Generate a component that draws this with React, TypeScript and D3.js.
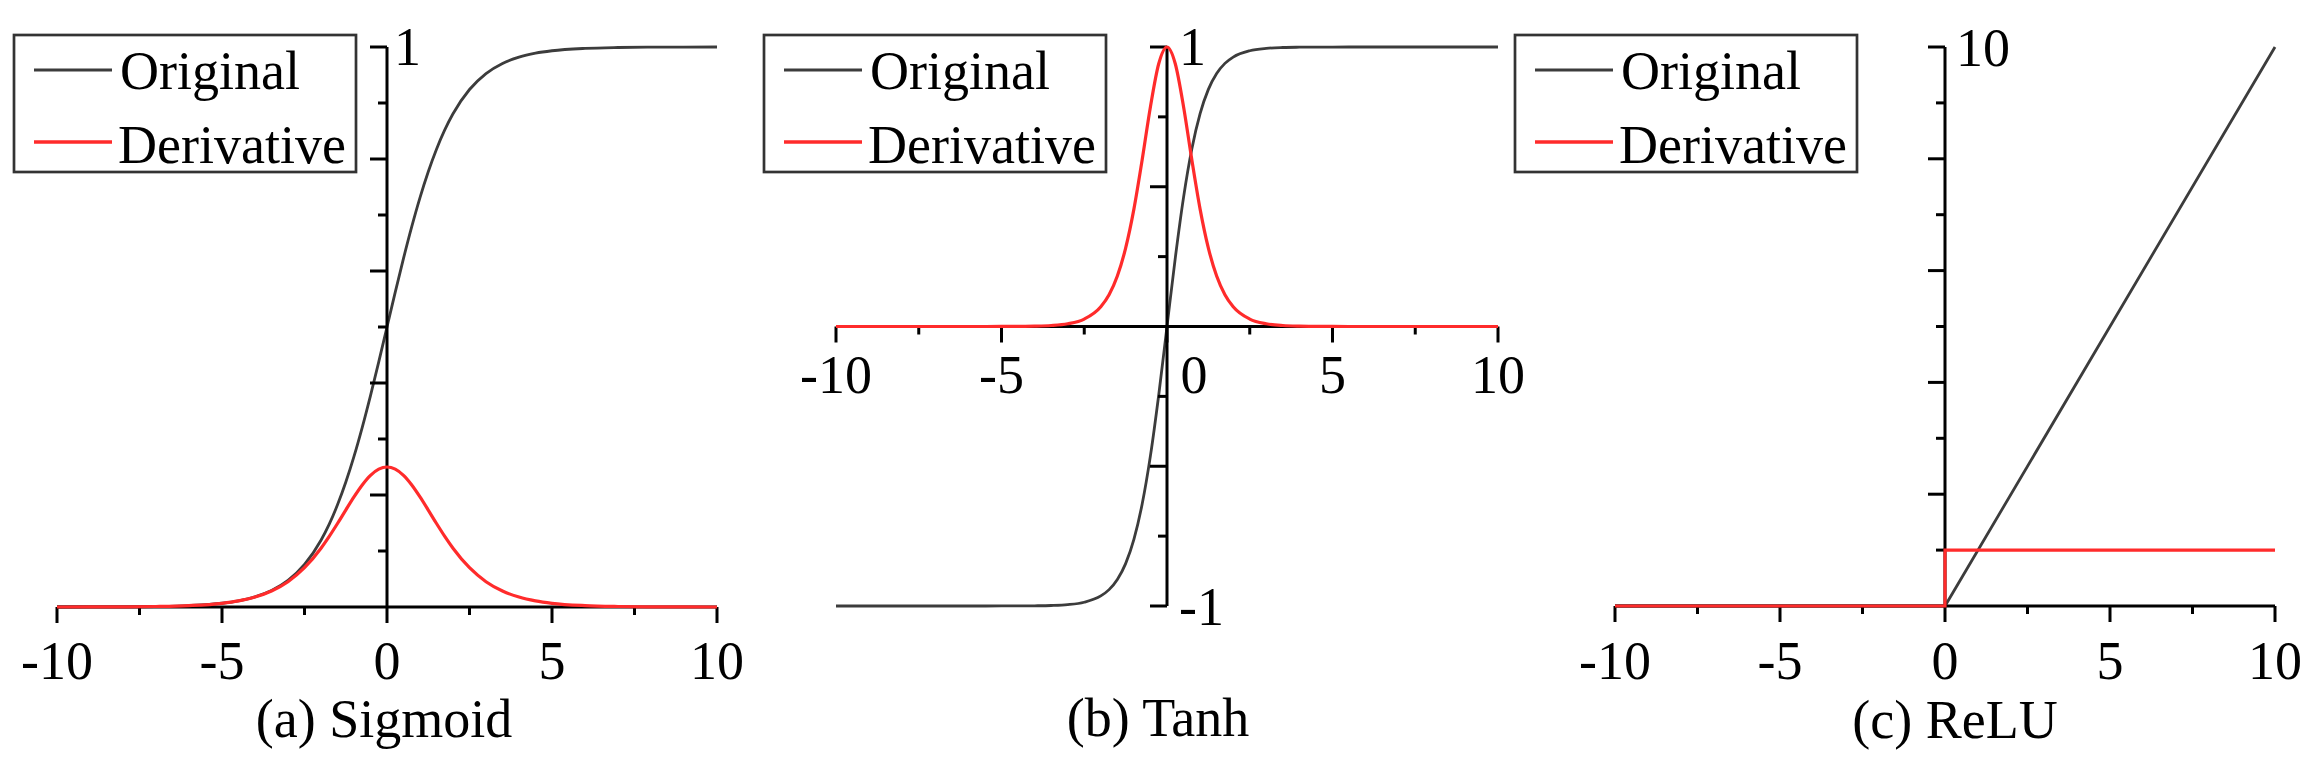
import React from 'react';
import * as d3 from 'd3';

// ---------- data ----------
const xs = [-10, -9, -8, -7, -6, -5, -4.5, -4, -3.5, -3, -2.5, -2, -1.75, -1.5, -1.25, -1, -0.75, -0.5, -0.25, 0,
  0.25, 0.5, 0.75, 1, 1.25, 1.5, 1.75, 2, 2.5, 3, 3.5, 4, 4.5, 5, 6, 7, 8, 9, 10];

const sigmoidOriginal = [0.0000, 0.0001, 0.0003, 0.0009, 0.0025, 0.0067, 0.0110, 0.0180, 0.0293, 0.0474, 0.0759, 0.1192,
  0.1480, 0.1824, 0.2227, 0.2689, 0.3208, 0.3775, 0.4378, 0.5,
  0.5622, 0.6225, 0.6792, 0.7311, 0.7773, 0.8176, 0.8520, 0.8808, 0.9241, 0.9526, 0.9707, 0.9820, 0.9890, 0.9933,
  0.9975, 0.9991, 0.9997, 0.9999, 1.0000];

const sigmoidDerivative = [0.0000, 0.0001, 0.0003, 0.0009, 0.0025, 0.0066, 0.0109, 0.0177, 0.0285, 0.0452, 0.0701, 0.1050,
  0.1261, 0.1491, 0.1731, 0.1966, 0.2179, 0.2350, 0.2461, 0.25,
  0.2461, 0.2350, 0.2179, 0.1966, 0.1731, 0.1491, 0.1261, 0.1050, 0.0701, 0.0452, 0.0285, 0.0177, 0.0109, 0.0066,
  0.0025, 0.0009, 0.0003, 0.0001, 0.0000];

const tanhOriginal = [-1.0000, -1.0000, -1.0000, -1.0000, -1.0000, -0.9999, -0.9998, -0.9993, -0.9982, -0.9951, -0.9866, -0.9640,
  -0.9414, -0.9051, -0.8483, -0.7616, -0.6351, -0.4621, -0.2449, 0,
  0.2449, 0.4621, 0.6351, 0.7616, 0.8483, 0.9051, 0.9414, 0.9640, 0.9866, 0.9951, 0.9982, 0.9993, 0.9998, 0.9999,
  1.0000, 1.0000, 1.0000, 1.0000, 1.0000];

const tanhDerivative = [0.0000, 0.0000, 0.0000, 0.0000, 0.0000, 0.0002, 0.0005, 0.0013, 0.0036, 0.0099, 0.0266, 0.0707,
  0.1138, 0.1807, 0.2804, 0.4200, 0.5966, 0.7864, 0.9400, 1,
  0.9400, 0.7864, 0.5966, 0.4200, 0.2804, 0.1807, 0.1138, 0.0707, 0.0266, 0.0099, 0.0036, 0.0013, 0.0005, 0.0002,
  0.0000, 0.0000, 0.0000, 0.0000, 0.0000];

const reluX = [-10, 0, 10];
const reluOriginal = [0, 0, 10];
const reluDerivX = [-10, 0, 0, 10];
const reluDerivative = [0, 0, 1, 1];

const xTickValues = [-10, -5, 0, 5, 10];
const xMinorTickValues = [-7.5, -2.5, 2.5, 7.5];

const sigmoidYMajor = [0.2, 0.4, 0.6, 0.8, 1];
const sigmoidYMinor = [0.1, 0.3, 0.5, 0.7, 0.9];
const tanhYMajor = [-1, -0.5, 0.5, 1];
const tanhYMinor = [-0.75, -0.25, 0.25, 0.75];
const reluYMajor = [2, 4, 6, 8, 10];
const reluYMinor = [1, 3, 5, 7, 9];

const sigmoidYLabels = [1];
const tanhYLabels = [1, -1];
const reluYLabels = [10];

const legendLabels = ['Original', 'Derivative'];
const captions = ['(a) Sigmoid', '(b) Tanh', '(c) ReLU'];

// ---------- style ----------
const FONT = '"Liberation Serif", "Times New Roman", serif';
const FS = 54;
const BLACK_LINE = '#3c3c3c';
const RED_LINE = '#ff2b2b';

type PanelProps = {
  xRange: [number, number];
  yDomain: [number, number];
  yRange: [number, number];
  origX: number[]; origY: number[];
  derivX: number[]; derivY: number[];
  smooth: boolean;
  yMajor: number[]; yMinor: number[];
  yLabels: number[];
  yLabelDx: number;
  yLabelBaselines: number[];
  xLabelOffset: number;
  zeroLabelShift: number;
  legendLeft: number;
  caption: string;
  captionX: number;
  captionY: number;
};

function Panel(p: PanelProps) {
  const x = d3.scaleLinear().domain([-10, 10]).range(p.xRange);
  const y = d3.scaleLinear().domain(p.yDomain).range(p.yRange);
  const axisY = y(Math.max(0, p.yDomain[0]));
  const axisX = x(0);
  const curve = p.smooth ? d3.curveMonotoneX : d3.curveLinear;
  const line = d3.line<[number, number]>().x(d => x(d[0])).y(d => y(d[1])).curve(curve);
  const orig = line(p.origX.map((v, i) => [v, p.origY[i]] as [number, number])) || '';
  const deriv = line(p.derivX.map((v, i) => [v, p.derivY[i]] as [number, number])) || '';
  const yTop = y(p.yDomain[1]);
  const yBot = y(p.yDomain[0]);
  const lt = 35;
  return (
    <g>
      <path d={orig} fill="none" stroke={BLACK_LINE} strokeWidth={2.8} />
      <line x1={x(-10)} x2={x(10)} y1={axisY} y2={axisY} stroke="#000" strokeWidth={3} />
      <line x1={axisX} x2={axisX} y1={yBot} y2={yTop} stroke="#000" strokeWidth={3} />
      {xTickValues.map(v => (
        <line key={'xM' + v} x1={x(v)} x2={x(v)} y1={axisY} y2={axisY + 16} stroke="#000" strokeWidth={3} />
      ))}
      {xMinorTickValues.map(v => (
        <line key={'xm' + v} x1={x(v)} x2={x(v)} y1={axisY} y2={axisY + 8} stroke="#000" strokeWidth={3} />
      ))}
      {p.yMajor.map(v => (
        <line key={'yM' + v} x1={axisX - 17} x2={axisX} y1={y(v)} y2={y(v)} stroke="#000" strokeWidth={3} />
      ))}
      {p.yMinor.map(v => (
        <line key={'ym' + v} x1={axisX - 9} x2={axisX} y1={y(v)} y2={y(v)} stroke="#000" strokeWidth={3} />
      ))}
      <path d={deriv} fill="none" stroke={RED_LINE} strokeWidth={3.2} />
      {xTickValues.map(v => (
        <text key={'xl' + v} x={x(v) + (v === 0 ? p.zeroLabelShift : 0)} y={axisY + p.xLabelOffset}
          textAnchor="middle" fontFamily={FONT} fontSize={FS} fill="#000">{String(v)}</text>
      ))}
      {p.yLabels.map((v, i) => (
        <text key={'yl' + v} x={axisX + p.yLabelDx} y={p.yLabelBaselines[i]}
          fontFamily={FONT} fontSize={FS} fill="#000">{String(v)}</text>
      ))}
      <rect x={p.legendLeft} y={lt} width={342} height={137} fill="#fff" stroke="#333" strokeWidth={2.7} />
      <line x1={p.legendLeft + 20} x2={p.legendLeft + 98} y1={lt + 35} y2={lt + 35} stroke={BLACK_LINE} strokeWidth={2.8} />
      <line x1={p.legendLeft + 20} x2={p.legendLeft + 98} y1={lt + 107} y2={lt + 107} stroke={RED_LINE} strokeWidth={3.5} />
      <text x={p.legendLeft + 106} y={lt + 54} fontFamily={FONT} fontSize={FS} fill="#000">{legendLabels[0]}</text>
      <text x={p.legendLeft + 104} y={lt + 128} fontFamily={FONT} fontSize={FS} fill="#000">{legendLabels[1]}</text>
      <text x={p.captionX} y={p.captionY} textAnchor="middle" fontFamily={FONT} fontSize={FS} fill="#000">{p.caption}</text>
    </g>
  );
}

export default function App() {
  return (
    <svg width={2317} height={769} viewBox="0 0 2317 769"
      style={{ position: 'absolute', left: 0, top: 0, display: 'block', background: '#fff' }}>
      <rect x={0} y={0} width={2317} height={769} fill="#fff" />
      <Panel xRange={[57, 717]} yDomain={[0, 1]} yRange={[607, 47]}
        origX={xs} origY={sigmoidOriginal} derivX={xs} derivY={sigmoidDerivative} smooth={true}
        yMajor={sigmoidYMajor} yMinor={sigmoidYMinor} yLabels={sigmoidYLabels} yLabelDx={7} yLabelBaselines={[65]}
        xLabelOffset={72} zeroLabelShift={0} legendLeft={14}
        caption={captions[0]} captionX={384} captionY={737} />
      <Panel xRange={[836, 1498]} yDomain={[-1, 1]} yRange={[606, 47]}
        origX={xs} origY={tanhOriginal} derivX={xs} derivY={tanhDerivative} smooth={true}
        yMajor={tanhYMajor} yMinor={tanhYMinor} yLabels={tanhYLabels} yLabelDx={12} yLabelBaselines={[65, 625]}
        xLabelOffset={66} zeroLabelShift={27} legendLeft={764}
        caption={captions[1]} captionX={1158} captionY={736} />
      <Panel xRange={[1615, 2275]} yDomain={[0, 10]} yRange={[606, 47]}
        origX={reluX} origY={reluOriginal} derivX={reluDerivX} derivY={reluDerivative} smooth={false}
        yMajor={reluYMajor} yMinor={reluYMinor} yLabels={reluYLabels} yLabelDx={11} yLabelBaselines={[66]}
        xLabelOffset={73} zeroLabelShift={0} legendLeft={1515}
        caption={captions[2]} captionX={1955} captionY={738} />
    </svg>
  );
}
